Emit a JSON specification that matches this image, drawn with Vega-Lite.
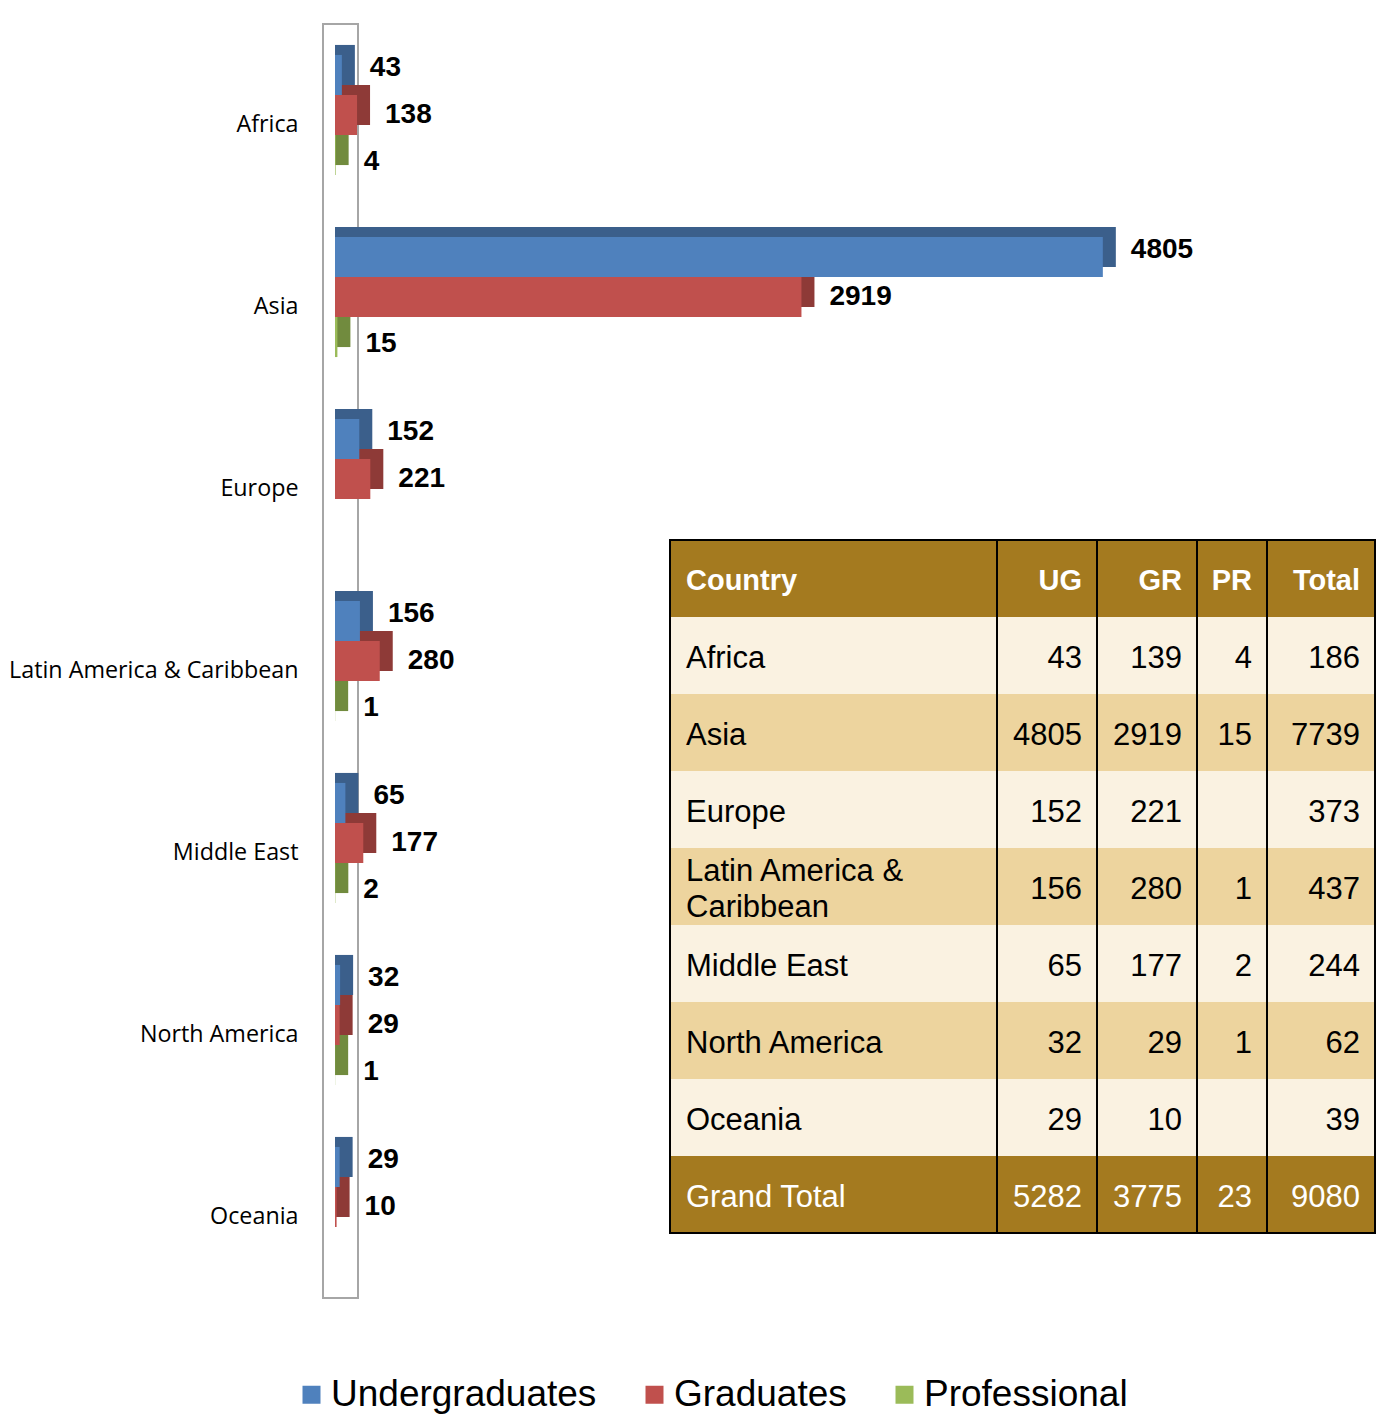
{
  "$schema": "https://vega.github.io/schema/vega-lite/v6.json",
  "width": 35,
  "height": 1274,
  "autosize": {"type": "none"},
  "padding": {"left": 323, "top": 24, "right": 1019, "bottom": 118},
  "background": "white",
  "config": {"view": {"stroke": "#A6A6A6", "strokeWidth": 2}},
  "datasets": {
    "bars": [
      {"region": "Africa", "series": "Undergraduates", "value": 43},
      {"region": "Africa", "series": "Graduates", "value": 138},
      {"region": "Africa", "series": "Professional", "value": 4},
      {"region": "Asia", "series": "Undergraduates", "value": 4805},
      {"region": "Asia", "series": "Graduates", "value": 2919},
      {"region": "Asia", "series": "Professional", "value": 15},
      {"region": "Europe", "series": "Undergraduates", "value": 152},
      {"region": "Europe", "series": "Graduates", "value": 221},
      {"region": "Latin America & Caribbean", "series": "Undergraduates", "value": 156},
      {"region": "Latin America & Caribbean", "series": "Graduates", "value": 280},
      {"region": "Latin America & Caribbean", "series": "Professional", "value": 1},
      {"region": "Middle East", "series": "Undergraduates", "value": 65},
      {"region": "Middle East", "series": "Graduates", "value": 177},
      {"region": "Middle East", "series": "Professional", "value": 2},
      {"region": "North America", "series": "Undergraduates", "value": 32},
      {"region": "North America", "series": "Graduates", "value": 29},
      {"region": "North America", "series": "Professional", "value": 1},
      {"region": "Oceania", "series": "Undergraduates", "value": 29},
      {"region": "Oceania", "series": "Graduates", "value": 10}
    ],
    "table": [
      {"Country": "Africa", "UG": 43, "GR": 139, "PR": 4, "Total": 186},
      {"Country": "Asia", "UG": 4805, "GR": 2919, "PR": 15, "Total": 7739},
      {"Country": "Europe", "UG": 152, "GR": 221, "PR": null, "Total": 373},
      {"Country": "Latin America & Caribbean", "UG": 156, "GR": 280, "PR": 1, "Total": 437},
      {"Country": "Middle East", "UG": 65, "GR": 177, "PR": 2, "Total": 244},
      {"Country": "North America", "UG": 32, "GR": 29, "PR": 1, "Total": 62},
      {"Country": "Oceania", "UG": 29, "GR": 10, "PR": null, "Total": 39},
      {"Country": "Grand Total", "UG": 5282, "GR": 3775, "PR": 23, "Total": 9080}
    ]
  },
  "resolve": {"scale": {"x": "independent", "y": "independent"}},
  "layer": [
    {
      "data": {"name": "bars"},
      "encoding": {
        "y": {"field": "region", "type": "nominal",
          "scale": {"domain": ["Africa", "Asia", "Europe", "Latin America & Caribbean", "Middle East", "North America", "Oceania"], "paddingInner": 0.34, "paddingOuter": 0.17},
          "axis": {"title": null, "domain": false, "ticks": false, "tickSize": 0, "labelPadding": 25, "labelFont": "Open Sans", "labelFontSize": 23.3, "labelColor": "black", "labelOffset": 10, "labelLimit": 0}},
        "x": {"field": "value", "type": "quantitative", "scale": {"domain": [0, 5000], "range": [12, 811], "nice": false}, "axis": null}
      },
      "resolve": {"scale": {"yOffset": "independent", "color": "independent"}},
      "layer": [
        {
          "mark": {"type": "bar", "xOffset": 13},
          "encoding": {
            "x2": {"datum": 0},
            "yOffset": {"field": "series", "type": "nominal", "scale": {"type": "band", "domain": ["Undergraduates", "Graduates", "Professional"], "range": [-10, 110.12], "paddingInner": 0, "paddingOuter": 0}},
            "color": {"field": "series", "type": "nominal", "scale": {"domain": ["Undergraduates", "Graduates", "Professional"], "range": ["#3B5F8B", "#8E3A37", "#718B3E"]}, "legend": null}
          }
        },
        {
          "mark": {"type": "bar"},
          "encoding": {
            "yOffset": {"field": "series", "type": "nominal", "scale": {"type": "band", "domain": ["Undergraduates", "Graduates", "Professional"], "range": [0, 120.12], "paddingInner": 0, "paddingOuter": 0}},
            "color": {"field": "series", "type": "nominal", "scale": {"domain": ["Undergraduates", "Graduates", "Professional"], "range": ["#4F81BD", "#C0504D", "#9BBB59"]},
              "legend": {"orient": "none", "legendX": -30, "legendY": 1352, "direction": "horizontal", "title": null, "symbolType": "square", "symbolSize": 324, "symbolStrokeWidth": 0, "labelFontSize": 37, "labelFont": "Liberation Sans", "labelColor": "black", "columnPadding": 39, "labelOffset": 1, "padding": 0, "labelLimit": 0}}
          }
        },
        {
          "mark": {"type": "text", "align": "left", "baseline": "middle", "dx": 28, "font": "Liberation Sans", "fontSize": 28, "fontWeight": "bold", "color": "black"},
          "encoding": {
            "yOffset": {"field": "series", "type": "nominal", "scale": {"type": "band", "domain": ["Undergraduates", "Graduates", "Professional"], "range": [-10, 130], "paddingInner": 0, "paddingOuter": 0}},
            "text": {"field": "value", "type": "quantitative"}
          }
        }
      ]
    },
    {
      "data": {"name": "table"},
      "resolve": {"scale": {"x": "independent"}},
      "layer": [
        {
          "encoding": {"x": {"datum": "Country", "type": "nominal", "scale": {"domain": ["Country"], "range": [347, 674], "paddingInner": 0, "paddingOuter": 0}, "axis": null}},
          "layer": [
            {"mark": {"type": "rect"}, "encoding": {
              "y": {"field": "Country", "type": "nominal", "scale": {"domain": ["Country", "Africa", "Asia", "Europe", "Latin America & Caribbean", "Middle East", "North America", "Oceania", "Grand Total"], "range": [516, 1209], "paddingInner": 0, "paddingOuter": 0}, "axis": null},
              "fill": {"field": "Country", "type": "nominal", "scale": {"domain": ["Country", "Africa", "Asia", "Europe", "Latin America & Caribbean", "Middle East", "North America", "Oceania", "Grand Total"], "range": ["#A47A1F", "#FAF2E1", "#EDD49E", "#FAF2E1", "#EDD49E", "#FAF2E1", "#EDD49E", "#FAF2E1", "#A47A1F"]}, "legend": null}}},
            {"data": {"values": [{}]}, "mark": {"type": "rect"}, "encoding": {
              "y": {"datum": "Country", "type": "nominal", "axis": null},
              "fill": {"datum": "Country", "type": "nominal", "legend": null}}},
            {"transform": [{"filter": "datum.Country !== 'Latin America & Caribbean'"}], "mark": {"type": "text", "align": "left", "baseline": "middle", "dx": 16, "dy": 3, "font": "Liberation Sans", "fontSize": 31}, "encoding": {
              "x": {"datum": "Country", "type": "nominal", "bandPosition": 0},
              "y": {"field": "Country", "type": "nominal", "axis": null},
              "text": {"field": "Country", "type": "nominal"},
              "color": {"condition": {"test": "datum.Country === 'Grand Total'", "value": "white"}, "value": "black"}}},
            {"transform": [{"filter": "datum.Country === 'Latin America & Caribbean'"}], "mark": {"type": "text", "align": "left", "baseline": "middle", "dx": 16, "dy": -15, "font": "Liberation Sans", "fontSize": 31, "lineHeight": 36, "color": "black"}, "encoding": {
              "x": {"datum": "Country", "type": "nominal", "bandPosition": 0},
              "y": {"field": "Country", "type": "nominal", "axis": null},
              "text": {"value": ["Latin America &", "Caribbean"]}}},
            {"data": {"values": [{}]}, "mark": {"type": "text", "align": "left", "baseline": "middle", "dx": 16, "dy": 2, "font": "Liberation Sans", "fontSize": 29, "fontWeight": "bold", "color": "white"}, "encoding": {
              "x": {"datum": "Country", "type": "nominal", "bandPosition": 0},
              "y": {"datum": "Country", "type": "nominal", "axis": null},
              "text": {"value": "Country"}}},
            {"data": {"values": [{}]}, "mark": {"type": "rect", "filled": false, "stroke": "black", "strokeWidth": 2}, "encoding": {
              "y": {"datum": "Country", "type": "nominal", "bandPosition": 0, "axis": null},
              "y2": {"datum": "Grand Total", "bandPosition": 1}}}
          ]
        },
        {
          "encoding": {"x": {"datum": "UG", "type": "nominal", "scale": {"domain": ["UG"], "range": [674, 774], "paddingInner": 0, "paddingOuter": 0}, "axis": null}},
          "layer": [
            {"mark": {"type": "rect"}, "encoding": {
              "y": {"field": "Country", "type": "nominal", "axis": null},
              "fill": {"field": "Country", "type": "nominal", "legend": null}}},
            {"data": {"values": [{}]}, "mark": {"type": "rect"}, "encoding": {
              "y": {"datum": "Country", "type": "nominal", "axis": null},
              "fill": {"datum": "Country", "type": "nominal", "legend": null}}},
            {"mark": {"type": "text", "align": "right", "baseline": "middle", "dx": -15, "dy": 3, "font": "Liberation Sans", "fontSize": 31}, "encoding": {
              "x": {"datum": "UG", "type": "nominal", "bandPosition": 1},
              "y": {"field": "Country", "type": "nominal", "axis": null},
              "text": {"field": "UG", "type": "quantitative"},
              "color": {"condition": {"test": "datum.Country === 'Grand Total'", "value": "white"}, "value": "black"}}},
            {"data": {"values": [{}]}, "mark": {"type": "text", "align": "right", "baseline": "middle", "dx": -15, "dy": 2, "font": "Liberation Sans", "fontSize": 29, "fontWeight": "bold", "color": "white"}, "encoding": {
              "x": {"datum": "UG", "type": "nominal", "bandPosition": 1},
              "y": {"datum": "Country", "type": "nominal", "axis": null},
              "text": {"value": "UG"}}},
            {"data": {"values": [{}]}, "mark": {"type": "rect", "filled": false, "stroke": "black", "strokeWidth": 2}, "encoding": {
              "y": {"datum": "Country", "type": "nominal", "bandPosition": 0, "axis": null},
              "y2": {"datum": "Grand Total", "bandPosition": 1}}}
          ]
        },
        {
          "encoding": {"x": {"datum": "GR", "type": "nominal", "scale": {"domain": ["GR"], "range": [774, 874], "paddingInner": 0, "paddingOuter": 0}, "axis": null}},
          "layer": [
            {"mark": {"type": "rect"}, "encoding": {
              "y": {"field": "Country", "type": "nominal", "axis": null},
              "fill": {"field": "Country", "type": "nominal", "legend": null}}},
            {"data": {"values": [{}]}, "mark": {"type": "rect"}, "encoding": {
              "y": {"datum": "Country", "type": "nominal", "axis": null},
              "fill": {"datum": "Country", "type": "nominal", "legend": null}}},
            {"mark": {"type": "text", "align": "right", "baseline": "middle", "dx": -15, "dy": 3, "font": "Liberation Sans", "fontSize": 31}, "encoding": {
              "x": {"datum": "GR", "type": "nominal", "bandPosition": 1},
              "y": {"field": "Country", "type": "nominal", "axis": null},
              "text": {"field": "GR", "type": "quantitative"},
              "color": {"condition": {"test": "datum.Country === 'Grand Total'", "value": "white"}, "value": "black"}}},
            {"data": {"values": [{}]}, "mark": {"type": "text", "align": "right", "baseline": "middle", "dx": -15, "dy": 2, "font": "Liberation Sans", "fontSize": 29, "fontWeight": "bold", "color": "white"}, "encoding": {
              "x": {"datum": "GR", "type": "nominal", "bandPosition": 1},
              "y": {"datum": "Country", "type": "nominal", "axis": null},
              "text": {"value": "GR"}}},
            {"data": {"values": [{}]}, "mark": {"type": "rect", "filled": false, "stroke": "black", "strokeWidth": 2}, "encoding": {
              "y": {"datum": "Country", "type": "nominal", "bandPosition": 0, "axis": null},
              "y2": {"datum": "Grand Total", "bandPosition": 1}}}
          ]
        },
        {
          "encoding": {"x": {"datum": "PR", "type": "nominal", "scale": {"domain": ["PR"], "range": [874, 944], "paddingInner": 0, "paddingOuter": 0}, "axis": null}},
          "layer": [
            {"mark": {"type": "rect"}, "encoding": {
              "y": {"field": "Country", "type": "nominal", "axis": null},
              "fill": {"field": "Country", "type": "nominal", "legend": null}}},
            {"data": {"values": [{}]}, "mark": {"type": "rect"}, "encoding": {
              "y": {"datum": "Country", "type": "nominal", "axis": null},
              "fill": {"datum": "Country", "type": "nominal", "legend": null}}},
            {"transform": [{"filter": {"field": "PR", "valid": true}}], "mark": {"type": "text", "align": "right", "baseline": "middle", "dx": -15, "dy": 3, "font": "Liberation Sans", "fontSize": 31}, "encoding": {
              "x": {"datum": "PR", "type": "nominal", "bandPosition": 1},
              "y": {"field": "Country", "type": "nominal", "axis": null},
              "text": {"field": "PR", "type": "quantitative"},
              "color": {"condition": {"test": "datum.Country === 'Grand Total'", "value": "white"}, "value": "black"}}},
            {"data": {"values": [{}]}, "mark": {"type": "text", "align": "right", "baseline": "middle", "dx": -15, "dy": 2, "font": "Liberation Sans", "fontSize": 29, "fontWeight": "bold", "color": "white"}, "encoding": {
              "x": {"datum": "PR", "type": "nominal", "bandPosition": 1},
              "y": {"datum": "Country", "type": "nominal", "axis": null},
              "text": {"value": "PR"}}},
            {"data": {"values": [{}]}, "mark": {"type": "rect", "filled": false, "stroke": "black", "strokeWidth": 2}, "encoding": {
              "y": {"datum": "Country", "type": "nominal", "bandPosition": 0, "axis": null},
              "y2": {"datum": "Grand Total", "bandPosition": 1}}}
          ]
        },
        {
          "encoding": {"x": {"datum": "Total", "type": "nominal", "scale": {"domain": ["Total"], "range": [944, 1052], "paddingInner": 0, "paddingOuter": 0}, "axis": null}},
          "layer": [
            {"mark": {"type": "rect"}, "encoding": {
              "y": {"field": "Country", "type": "nominal", "axis": null},
              "fill": {"field": "Country", "type": "nominal", "legend": null}}},
            {"data": {"values": [{}]}, "mark": {"type": "rect"}, "encoding": {
              "y": {"datum": "Country", "type": "nominal", "axis": null},
              "fill": {"datum": "Country", "type": "nominal", "legend": null}}},
            {"mark": {"type": "text", "align": "right", "baseline": "middle", "dx": -15, "dy": 3, "font": "Liberation Sans", "fontSize": 31}, "encoding": {
              "x": {"datum": "Total", "type": "nominal", "bandPosition": 1},
              "y": {"field": "Country", "type": "nominal", "axis": null},
              "text": {"field": "Total", "type": "quantitative"},
              "color": {"condition": {"test": "datum.Country === 'Grand Total'", "value": "white"}, "value": "black"}}},
            {"data": {"values": [{}]}, "mark": {"type": "text", "align": "right", "baseline": "middle", "dx": -15, "dy": 2, "font": "Liberation Sans", "fontSize": 29, "fontWeight": "bold", "color": "white"}, "encoding": {
              "x": {"datum": "Total", "type": "nominal", "bandPosition": 1},
              "y": {"datum": "Country", "type": "nominal", "axis": null},
              "text": {"value": "Total"}}},
            {"data": {"values": [{}]}, "mark": {"type": "rect", "filled": false, "stroke": "black", "strokeWidth": 2}, "encoding": {
              "y": {"datum": "Country", "type": "nominal", "bandPosition": 0, "axis": null},
              "y2": {"datum": "Grand Total", "bandPosition": 1}}}
          ]
        }
      ]
    }
  ]
}
